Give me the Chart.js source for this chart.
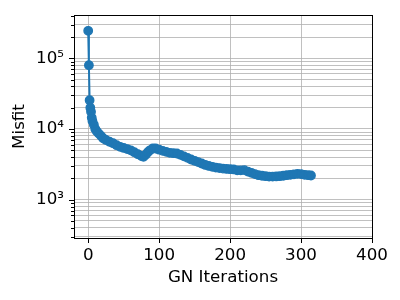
<!DOCTYPE html>
<html>
<head>
<meta charset="utf-8">
<script src="https://cdn.jsdelivr.net/npm/chart.js@4"></script>
<style>
  html, body { margin: 0; padding: 0; background: #fff; }
  #wrap { width: 400px; height: 300px; }
</style>
</head>
<body>
<div id="wrap"><canvas id="misfitChart" width="400" height="300"></canvas></div>
<script>
// GN iteration numbers and misfit values
const iterations = [0, 1, 2, 3, 4, 5, 6, 8, 10, 12, 15, 18, 21, 25, 30, 35, 40, 45, 50, 55,
    60, 65, 70, 75, 78, 81, 84, 87, 91, 95, 100, 105, 110, 115, 120, 125, 130, 135, 140, 145,
    150, 155, 160, 165, 170, 175, 180, 185, 190, 195, 200, 205, 210, 215, 220, 225, 230, 235,
    240, 245, 250, 255, 260, 265, 270, 275, 280, 285, 290, 295, 300, 305, 310, 314];
const misfit = [245000, 80000, 25500, 20000, 17500, 14500, 13000, 11500, 10000, 9300, 8600, 8000,
    7400, 7000, 6600, 6300, 5900, 5600, 5400, 5200, 5000, 4700, 4400, 4150, 4050, 4300, 4700,
    5000, 5300, 5300, 5100, 4900, 4750, 4600, 4550, 4500, 4300, 4100, 3900, 3700, 3550, 3400,
    3250, 3100, 3000, 2920, 2850, 2800, 2750, 2720, 2700, 2680, 2600, 2600, 2620, 2500, 2400,
    2300, 2220, 2180, 2150, 2120, 2120, 2130, 2150, 2180, 2220, 2250, 2280, 2320, 2300, 2250,
    2220, 2200];

const xTicks = [0, 100, 200, 300, 400];
const yTicks = [300, 400, 500, 600, 700, 800, 900, 1000, 2000, 3000, 4000, 5000, 6000, 7000,
    8000, 9000, 10000, 20000, 30000, 40000, 50000, 60000, 70000, 80000, 90000, 100000,
    200000, 300000, 400000];
const yLabels = { 1000: '10³', 10000: '10⁴', 100000: '10⁵' };

const fontFamily = "'DejaVu Sans', sans-serif";
const fontSize = 16.7;

// box around the plot area plus the outward tick marks
const framePlugin = {
    id: 'frame',
    afterDraw(chart) {
        const ctx = chart.ctx;
        const a = chart.chartArea;
        const xs = chart.scales.x;
        const ys = chart.scales.y;
        ctx.save();
        ctx.strokeStyle = '#000';
        ctx.lineWidth = 1;
        ctx.beginPath();
        xTicks.forEach(v => {
            const px = Math.round(xs.getPixelForValue(v)) + 0.5;
            ctx.moveTo(px, a.bottom);
            ctx.lineTo(px, a.bottom + 5);
        });
        yTicks.forEach(v => {
            const py = Math.round(ys.getPixelForValue(v)) + 0.5;
            const len = yLabels[v] ? 5 : 3;
            ctx.moveTo(a.left, py);
            ctx.lineTo(a.left - len, py);
        });
        ctx.stroke();
        ctx.strokeRect(Math.round(a.left) + 0.5, Math.round(a.top) + 0.5,
            Math.round(a.right - a.left), Math.round(a.bottom - a.top));
        ctx.restore();
    }
};

new Chart(document.getElementById('misfitChart').getContext('2d'), {
    type: 'line',
    data: {
        datasets: [{
            label: 'Misfit',
            data: iterations.map((it, i) => ({ x: it, y: misfit[i] })),
            borderColor: '#1f77b4',
            backgroundColor: '#1f77b4',
            borderWidth: 2,
            pointRadius: 4.2,
            pointBorderWidth: 1.4,
            pointBorderColor: '#1f77b4',
            pointHoverRadius: 4.2,
            fill: false,
            tension: 0
        }]
    },
    options: {
        responsive: false,
        animation: false,
        events: [],
        layout: { padding: { left: 0, right: 28, top: 15, bottom: 8 } },
        plugins: {
            legend: { display: false },
            tooltip: { enabled: false }
        },
        scales: {
            x: {
                type: 'linear',
                min: -20,
                max: 400,
                afterBuildTicks: scale => { scale.ticks = xTicks.map(v => ({ value: v })); },
                afterFit: scale => {
                    scale.height = 54;
                    scale.paddingLeft = 0;
                    scale.paddingRight = 0;
                },
                grid: { color: '#b0b0b0', lineWidth: 0.8, drawTicks: false },
                border: { display: false },
                ticks: {
                    color: '#000',
                    padding: 8,
                    maxRotation: 0,
                    font: { family: fontFamily, size: fontSize }
                },
                title: {
                    display: true,
                    text: 'GN Iterations',
                    color: '#000',
                    padding: { top: 2, bottom: 4 },
                    font: { family: fontFamily, size: fontSize }
                }
            },
            y: {
                type: 'logarithmic',
                min: 287,
                max: 410000,
                afterBuildTicks: scale => { scale.ticks = yTicks.map(v => ({ value: v })); },
                afterFit: scale => {
                    scale.width = 74;
                    scale.paddingTop = 0;
                    scale.paddingBottom = 0;
                },
                grid: { color: '#b0b0b0', lineWidth: 0.8, drawTicks: false },
                border: { display: false },
                ticks: {
                    color: '#000',
                    padding: 10,
                    autoSkip: false,
                    font: { family: fontFamily, size: fontSize },
                    callback: v => yLabels[v] || ''
                },
                title: {
                    display: true,
                    text: 'Misfit',
                    color: '#000',
                    padding: { top: 10, bottom: 0 },
                    font: { family: fontFamily, size: fontSize }
                }
            }
        }
    },
    plugins: [framePlugin]
});
</script>
</body>
</html>
